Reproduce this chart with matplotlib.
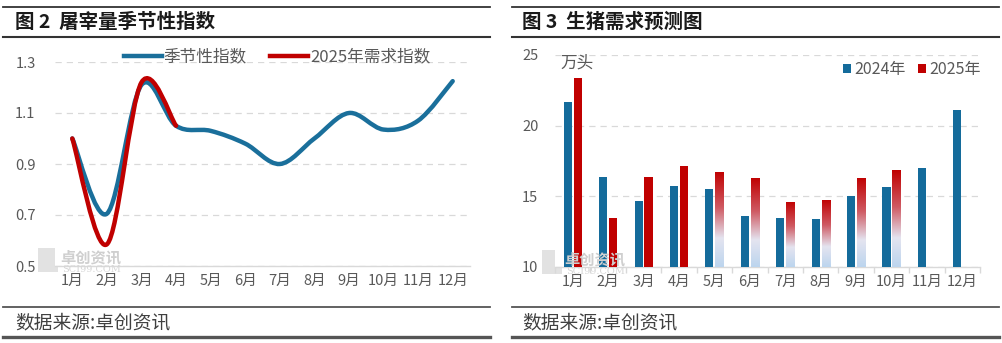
import numpy as np
import matplotlib.pyplot as plt
from matplotlib.path import Path
from matplotlib.patches import PathPatch, Rectangle
from matplotlib.lines import Line2D
from matplotlib.colors import LinearSegmentedColormap

plt.rcParams['font.family'] = ['Noto Sans CJK SC', 'DejaVu Sans']

# data
months = ['1月', '2月', '3月', '4月', '5月', '6月', '7月', '8月', '9月', '10月', '11月', '12月']
season_idx = [1.00, 0.705, 1.21, 1.05, 1.03, 0.98, 0.90, 1.00, 1.10, 1.035, 1.07, 1.225]
demand_2025 = [1.00, 0.585, 1.22, 1.05]
hogs_2024 = [21.7, 16.35, 14.7, 15.75, 15.55, 13.6, 13.5, 13.4, 15.05, 15.65, 17.0, 21.1]
hogs_2025 = [23.35, 13.5, 16.35, 17.15, 16.75, 16.3, 14.6, 14.75, 16.3, 16.85]
forecast_from = 4  # 2025 bars from 5月 on are forecasts (gradient fill)

BLUE_LINE = '#1a6f9b'
BLUE_BAR = '#146b9b'
RED = '#c00000'
TICK = '#595959'
GRID = '#d9d9d9'

W, H = 1003, 343
fig = plt.figure(figsize=(W / 100, H / 100), dpi=100)


def px_axes(x0, y0, x1, y1):
    # pixel box (top-left origin) -> figure axes
    return fig.add_axes([x0 / W, 1 - y1 / H, (x1 - x0) / W, (y1 - y0) / H])


def hline(x0, x1, y, lw, color):
    fig.add_artist(Line2D([x0 / W, x1 / W], [1 - y / H, 1 - y / H],
                          transform=fig.transFigure, lw=lw, color=color))


def smooth_path(xs, ys):
    # catmull-rom style bezier through the points, like excel's smoothed line
    pts = np.column_stack([xs, ys]).astype(float)
    verts = [pts[0]]
    codes = [Path.MOVETO]
    n = len(pts)
    for i in range(n - 1):
        p0 = pts[i - 1] if i > 0 else pts[i]
        p3 = pts[i + 2] if i + 2 < n else pts[i + 1]
        c1 = pts[i] + (pts[i + 1] - p0) / 6
        c2 = pts[i + 1] - (p3 - pts[i]) / 6
        verts += [c1, c2, pts[i + 1]]
        codes += [Path.CURVE4] * 3
    return Path(verts, codes)


def style_axes(ax):
    for s in ['top', 'right', 'left']:
        ax.spines[s].set_visible(False)
    ax.spines['bottom'].set_color(GRID)
    ax.spines['bottom'].set_linewidth(1.0)
    ax.tick_params(axis='both', length=0, colors=TICK, labelsize=10.5)
    ax.tick_params(axis='y', pad=14)
    ax.tick_params(axis='x', pad=6)
    ax.grid(axis='y', color=GRID, lw=0.9, ls=(0, (5, 4)))
    ax.set_axisbelow(True)


def watermark(x, y):
    fig.add_artist(Rectangle((x / W, 1 - (y + 12) / H), 20 / W, 24 / H,
                             transform=fig.transFigure, fc='#e2e2e2', ec='none', zorder=0))
    fig.text((x + 22) / W, 1 - (y - 3) / H, '卓创资讯', fontsize=11, color='#cfcfcf',
             fontweight='bold', va='center', ha='left', zorder=0)
    fig.text((x + 24) / W, 1 - (y + 9) / H, 'SCI99.COM', fontsize=7,
             color='#d6d6d6', va='center', ha='left', family='DejaVu Serif', zorder=0)


# frame lines and titles
for x0, x1 in [(3, 490), (512, 999)]:
    hline(x0, x1, 7, 1.3, '#333333')
    hline(x0, x1, 37, 1.5, '#333333')
    hline(x0, x1, 307, 1.3, '#555555')
    hline(x0, x1, 337, 2.4, '#555555')

fig.text(15 / W, 1 - 22 / H, '图 2  屠宰量季节性指数', fontsize=14, fontweight='bold',
         color='#1a1a1a', va='center', ha='left')
fig.text(522 / W, 1 - 22 / H, '图 3  生猪需求预测图', fontsize=14, fontweight='bold',
         color='#1a1a1a', va='center', ha='left')
fig.text(15 / W, 1 - 323 / H, '数据来源:卓创资讯', fontsize=13.5, color='#404040',
         va='center', ha='left')
fig.text(522 / W, 1 - 323 / H, '数据来源:卓创资讯', fontsize=13.5, color='#404040',
         va='center', ha='left')

# ---- left: seasonal index lines
watermark(38, 260)
ax1 = px_axes(55, 62, 470, 266)
style_axes(ax1)
x = np.arange(len(months))
ax1.add_patch(PathPatch(smooth_path(x, season_idx), fill=False, ec=BLUE_LINE,
                        lw=3.2, capstyle='round', joinstyle='round', zorder=3))
ax1.add_patch(PathPatch(smooth_path(x[:len(demand_2025)], demand_2025), fill=False,
                        ec=RED, lw=3.2, capstyle='round', joinstyle='round', zorder=4))
ax1.set_xlim(-0.5, len(months) - 0.5)
ax1.set_ylim(0.5, 1.3)
ax1.set_yticks([0.5, 0.7, 0.9, 1.1, 1.3])
ax1.set_yticklabels(['0.5', '0.7', '0.9', '1.1', '1.3'])
ax1.set_xticks(x)
ax1.set_xticklabels(months)
handles = [Line2D([], [], color=BLUE_LINE, lw=3.2), Line2D([], [], color=RED, lw=3.2)]
ax1.legend(handles, ['季节性指数', '2025年需求指数'], ncol=2, loc='center',
           bbox_to_anchor=(0.535, 1.025), frameon=False, fontsize=12,
           handlelength=2.3, handletextpad=0.1, columnspacing=1.4,
           labelcolor=TICK, borderaxespad=0)

# ---- right: demand bars
watermark(542, 262)
ax2 = px_axes(555, 55, 980, 267)
style_axes(ax2)
ax2.tick_params(axis='y', pad=12)
bw = 0.23
b24 = ax2.bar(x - 0.14, hogs_2024, bw, color=BLUE_BAR, zorder=3)
x25 = np.arange(len(hogs_2025))
b25 = ax2.bar(x25 + 0.14, hogs_2025, bw, color=RED, zorder=3)
ax2.set_xlim(-0.5, len(months) - 0.5)
ax2.set_ylim(10, 25)

grad_cmap = LinearSegmentedColormap.from_list(
    'fc', [(0, '#bcd5ee'), (0.3, '#e4e4f0'), (0.62, '#cf5a63'), (1.0, RED)])
grad = np.linspace(0, 1, 256).reshape(-1, 1)
for rect in list(b25)[forecast_from:]:
    x0, w = rect.get_x(), rect.get_width()
    top = rect.get_y() + rect.get_height()
    im = ax2.imshow(grad, cmap=grad_cmap, origin='lower', aspect='auto',
                    extent=[x0, x0 + w, 10, top], zorder=3)
    im.set_clip_path(rect)
    rect.set_facecolor('none')
ax2.set_xlim(-0.5, len(months) - 0.5)
ax2.set_ylim(10, 25)

ax2.set_yticks([10, 15, 20, 25])
ax2.set_xticks(x)
ax2.set_xticklabels(months)
ax2.set_xticks(np.arange(len(months) + 1) - 0.5, minor=True)
ax2.tick_params(axis='x', which='minor', length=4, color=GRID, width=1)
ax2.text(0.012, 0.962, '万头', transform=ax2.transAxes, fontsize=12, color=TICK,
         va='center', ha='left')
ax2.legend([b24, b25], ['2024年', '2025年'], ncol=2, loc='center',
           bbox_to_anchor=(0.84, 0.93), frameon=False, fontsize=11.5,
           handlelength=0.5, handleheight=0.5, handletextpad=0.2, columnspacing=0.8,
           labelcolor=TICK, borderaxespad=0)

fig.savefig('out.png', dpi=100)
